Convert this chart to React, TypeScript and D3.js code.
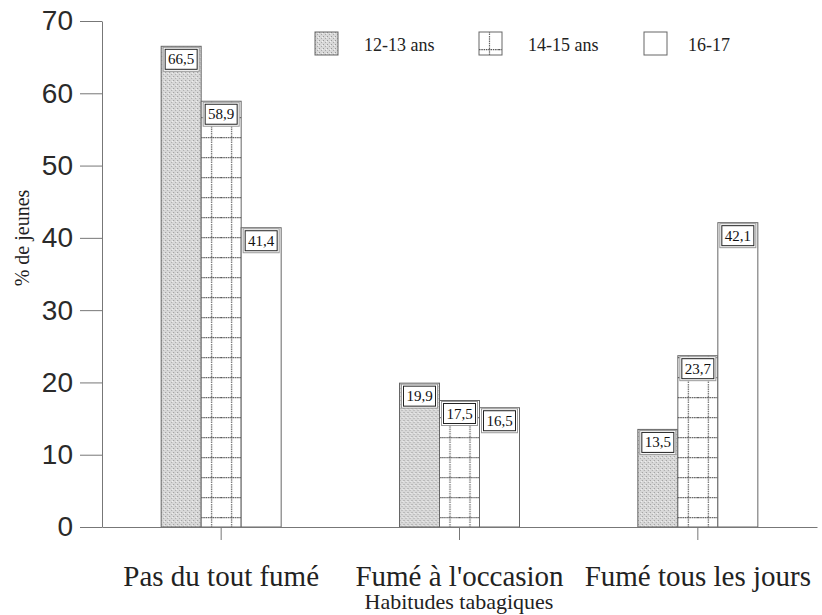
import { useEffect, useRef } from "react";
import * as d3 from "d3";

const categories = ["Pas du tout fumé", "Fumé à l'occasion", "Fumé tous les jours"];
const series = ["12-13 ans", "14-15 ans", "16-17"];
const values1213 = [66.5, 19.9, 13.5];
const values1415 = [58.9, 17.5, 23.7];
const values1617 = [41.4, 16.5, 42.1];
const yTicks = [0, 10, 20, 30, 40, 50, 60, 70];

const serif = "Liberation Serif";
const sans = "Liberation Sans";

export default function App() {
  const svgRef = useRef<SVGSVGElement>(null);

  useEffect(() => {
    const w = 822;
    const h = 615;
    const margin = { left: 102, right: 5, top: 21, bottom: 88 };
    const svg = d3.select(svgRef.current).attr("width", w).attr("height", h);
    svg.selectAll("*").remove();

    const fr = d3.formatLocale({ decimal: ",", thousands: " ", grouping: [3], currency: ["", ""] });
    const fmt = fr.format(".1f");

    // patterns
    const defs = svg.append("defs");
    const dots = defs.append("pattern")
      .attr("id", "dots").attr("patternUnits", "userSpaceOnUse")
      .attr("width", 4).attr("height", 4);
    dots.append("rect").attr("width", 4).attr("height", 4).attr("fill", "#d8d8d8");
    dots.append("rect").attr("x", 0).attr("y", 0).attr("width", 1).attr("height", 1).attr("fill", "#999");
    dots.append("rect").attr("x", 2).attr("y", 2).attr("width", 1).attr("height", 1).attr("fill", "#a8a8a8");
    dots.append("rect").attr("x", 3).attr("y", 1).attr("width", 1).attr("height", 1).attr("fill", "#f2f2f2");

    const grid = defs.append("pattern")
      .attr("id", "grid").attr("patternUnits", "userSpaceOnUse")
      .attr("x", 0).attr("y", 17)
      .attr("width", 20).attr("height", 20);
    grid.append("rect").attr("width", 20).attr("height", 20).attr("fill", "#fff");
    grid.append("line").attr("x1", 0).attr("x2", 20).attr("y1", 0.5).attr("y2", 0.5)
      .attr("stroke", "#555").attr("stroke-width", 1.6).attr("stroke-dasharray", "1.5,0.8");
    grid.append("line").attr("x1", 10.5).attr("x2", 10.5).attr("y1", 0).attr("y2", 20)
      .attr("stroke", "#666").attr("stroke-width", 1.2).attr("stroke-dasharray", "1.5,0.8");

    const fills = ["url(#dots)", "url(#grid)", "#fff"];

    const x = d3.scaleBand().domain(categories).range([margin.left, w - margin.right]).padding(0);
    const xInner = d3.scaleBand().domain(series).range([-60, 60]).padding(0);
    const y = d3.scaleLinear().domain([0, 70]).range([h - margin.bottom, margin.top]);

    const table = categories.map((c, i) => ({
      cat: c,
      vals: [values1213[i], values1415[i], values1617[i]],
    }));

    // bars
    const groups = svg.append("g").selectAll("g").data(table).join("g")
      .attr("transform", (d) => `translate(${x(d.cat)! + x.bandwidth() / 2},0)`);

    groups.selectAll("rect.bar")
      .data((d) => d.vals.map((v, j) => ({ v, s: series[j], j })))
      .join("rect")
      .attr("class", "bar")
      .attr("x", (d) => xInner(d.s)!)
      .attr("width", xInner.bandwidth())
      .attr("y", (d) => y(d.v))
      .attr("height", (d) => y(0) - y(d.v))
      .attr("fill", (d) => fills[d.j])
      .attr("stroke", "#666")
      .attr("stroke-width", 1);

    // value labels
    const lab = groups.selectAll("g.lab")
      .data((d) => d.vals.map((v, j) => ({ v, s: series[j], j })))
      .join("g")
      .attr("class", "lab")
      .attr("transform", (d) => `translate(${xInner(d.s)! + xInner.bandwidth() / 2},${y(d.v) + 1})`);
    lab.append("rect").attr("x", -18).attr("y", 0).attr("width", 36).attr("height", 24)
      .attr("fill", "#fff").attr("stroke", "#999").attr("stroke-width", 1);
    lab.append("rect").attr("x", -16).attr("y", 2).attr("width", 32).attr("height", 20)
      .attr("fill", "#fff").attr("stroke", "#222").attr("stroke-width", 1);
    lab.append("text").attr("x", 0).attr("y", 17).attr("text-anchor", "middle")
      .style("font-family", serif).style("font-size", "15px").attr("fill", "#111")
      .text((d) => fmt(d.v));

    // axes
    const yAxis = d3.axisLeft(y).tickValues(yTicks).tickSize(22).tickSizeOuter(0).tickPadding(7);
    const gy = svg.append("g").attr("transform", `translate(${margin.left},0)`).call(yAxis);
    gy.selectAll("line").attr("stroke", "#777");
    gy.select(".domain").attr("stroke", "#777");
    gy.selectAll("text").attr("fill", "#2a2a2a")
      .style("font-family", sans).style("font-size", "28px");

    const xAxis = d3.axisBottom(x).tickSize(13).tickSizeOuter(0).tickPadding(25);
    const gx = svg.append("g").attr("transform", `translate(0,${y(0)})`).call(xAxis);
    gx.selectAll("line").attr("stroke", "#777");
    gx.select(".domain").attr("stroke", "#777");
    gx.selectAll("text").attr("fill", "#222")
      .style("font-family", serif).style("font-size", "29px");

    // axis titles
    svg.append("text").attr("x", 459).attr("y", 609).attr("text-anchor", "middle")
      .style("font-family", serif).style("font-size", "22px").attr("fill", "#222")
      .text("Habitudes tabagiques");
    svg.append("text").attr("transform", "translate(29,238) rotate(-90)").attr("text-anchor", "middle")
      .style("font-family", serif).style("font-size", "20px").attr("fill", "#222")
      .text("% de jeunes");

    // legend
    const legX = [315, 479, 644];
    const leg = svg.append("g").selectAll("g").data(series).join("g")
      .attr("transform", (d, i) => `translate(${legX[i]},32)`);
    leg.append("rect").attr("width", 23).attr("height", 23)
      .attr("fill", (d, i) => fills[i]).attr("stroke", "#666");
    leg.append("text").attr("x", (d, i) => (i === 2 ? 44 : 49)).attr("y", 19)
      .style("font-family", serif).style("font-size", "18px").attr("fill", "#222")
      .text((d) => d);
  }, []);

  return (
    <svg ref={svgRef} style={{ position: "absolute", left: 0, top: 0, display: "block" }}></svg>
  );
}
